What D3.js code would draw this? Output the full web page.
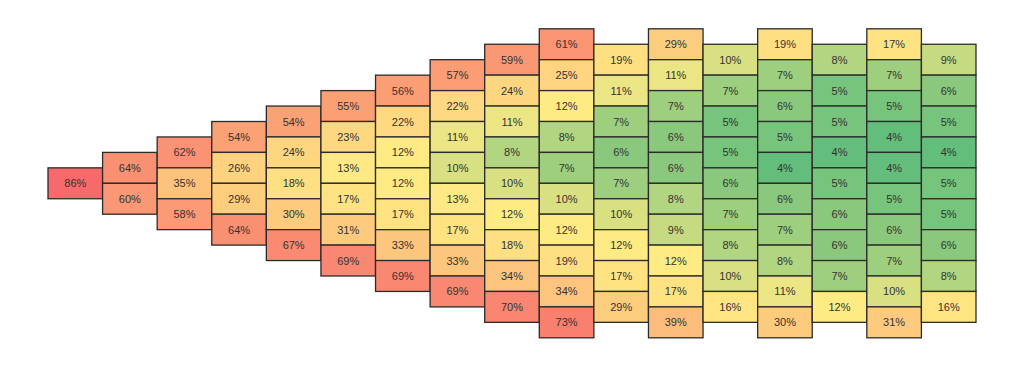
<!DOCTYPE html>
<html>
<head>
<meta charset="utf-8">
<script src="https://cdn.jsdelivr.net/npm/d3@7"></script>
<style>
  body { margin: 0; background: #fff; }
  text { font-family: "Liberation Sans", Arial, sans-serif; font-size: 11px; fill: #333; }
</style>
</head>
<body>
<div id="chart"></div>
<script>
const width = 1023;
const height = 372;

// one array per column, top to bottom (percent)
const columns = [
	[86],
	[64, 60],
	[62, 35, 58],
	[54, 26, 29, 64],
	[54, 24, 18, 30, 67],
	[55, 23, 13, 17, 31, 69],
	[56, 22, 12, 12, 17, 33, 69],
	[57, 22, 11, 10, 13, 17, 33, 69],
	[59, 24, 11, 8, 10, 12, 18, 34, 70],
	[61, 25, 12, 8, 7, 10, 12, 19, 34, 73],
	[19, 11, 7, 6, 7, 10, 12, 17, 29],
	[29, 11, 7, 6, 6, 8, 9, 12, 17, 39],
	[10, 7, 5, 5, 6, 7, 8, 10, 16],
	[19, 7, 6, 5, 4, 6, 7, 8, 11, 30],
	[8, 5, 5, 4, 5, 6, 6, 7, 12],
	[17, 7, 5, 4, 4, 5, 6, 7, 10, 31],
	[9, 6, 5, 4, 5, 5, 6, 8, 16]
];
const colorStops = ["#63BE7B", "#FFEB84", "#F8696B"];

// flatten; offset = position of the cell's top edge relative to the column centre
const cells = [];
columns.forEach((col, c) => {
	col.forEach((v, i) => {
		cells.push({ col: c, offset: i - col.length / 2, value: v });
	});
});

const all = cells.map(d => d.value).sort(d3.ascending);

const x = d3.scaleBand().domain(d3.range(columns.length)).range([48, 976]).padding(0);
const cellH = 30.9;
const y = d3.scaleLinear().domain([-5, 5]).range([183.3 - 5 * cellH, 183.3 + 5 * cellH]);
// 3-colour scale, min / median / max
const color = d3.scaleLinear()
	.domain([d3.min(all), d3.quantile(all, 0.5), d3.max(all)])
	.range(colorStops);

const svg = d3.select("#chart").append("svg").attr("width", width).attr("height", height);

const g = svg.selectAll("g.cell").data(cells).enter().append("g").attr("class", "cell");

g.append("rect")
	.attr("x", d => x(d.col))
	.attr("y", d => y(d.offset))
	.attr("width", x.bandwidth())
	.attr("height", y(1) - y(0))
	.attr("fill", d => color(d.value))
	.attr("stroke", "#2b2b2b")
	.attr("stroke-width", 1.3);

g.append("text")
	.attr("x", d => x(d.col) + x.bandwidth() / 2)
	.attr("y", d => y(d.offset + 0.5))
	.attr("text-anchor", "middle")
	.attr("dominant-baseline", "central")
	.text(d => d.value + "%");
</script>
</body>
</html>
